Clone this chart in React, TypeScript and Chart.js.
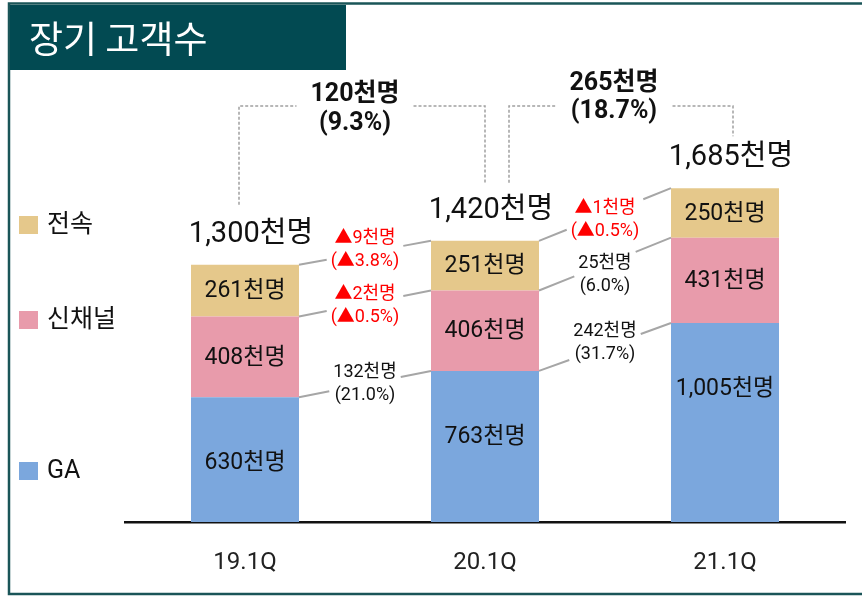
import React, { useEffect, useRef } from 'react';
import { Chart, registerables } from 'chart.js';

Chart.register(...registerables);

const title = '장기 고객수';
const categories = ['19.1Q', '20.1Q', '21.1Q'];
const seriesNames = ['GA', '신채널', '전속'];
const gaValues = [630, 763, 1005];
const newChannelValues = [408, 406, 431];
const exclusiveValues = [261, 251, 250];
const gaLabels = ['630천명', '763천명', '1,005천명'];
const newChannelLabels = ['408천명', '406천명', '431천명'];
const exclusiveLabels = ['261천명', '251천명', '250천명'];
const totalLabels = ['1,300천명', '1,420천명', '1,685천명'];
const gaChange = [['132천명', '(21.0%)'], ['242천명', '(31.7%)']];
const newChannelChange = [['▲2천명', '(▲0.5%)'], ['25천명', '(6.0%)']];
const exclusiveChange = [['▲9천명', '(▲3.8%)'], ['▲1천명', '(▲0.5%)']];
const totalChange = [['120천명', '(9.3%)'], ['265천명', '(18.7%)']];

const colors = ['#7BA7DD', '#E89BAB', '#E5C88B'];
const FONT = "Roboto, 'Noto Sans CJK KR', sans-serif";
const KFONT = "'Noto Sans CJK KR', Roboto, sans-serif";

const decorPlugin = {
  id: 'decor',
  beforeDraw(chart: any) {
    const ctx = chart.ctx;
    ctx.save();
    ctx.fillStyle = '#fff';
    ctx.fillRect(0, 0, chart.width, chart.height);
    ctx.strokeStyle = '#1A5558';
    ctx.lineWidth = 2.5;
    ctx.strokeRect(9, 3.5, chart.width + 20, 590.5);
    ctx.fillStyle = '#024A52';
    ctx.fillRect(10, 5, 336, 65);
    ctx.fillStyle = '#fff';
    ctx.font = `37px ${KFONT}`;
    ctx.textAlign = 'left';
    ctx.textBaseline = 'middle';
    ctx.fillText(title, 29, 39);

    // legend
    const legendY = [471, 320, 225];
    ctx.font = `25px ${FONT}`;
    chart.data.datasets.forEach((ds: any, i: number) => {
      const y = legendY[i];
      ctx.fillStyle = ds.backgroundColor;
      ctx.fillRect(19, y - 9, 19, 18);
      ctx.fillStyle = '#111';
      ctx.fillText(ds.label, 47, y + 1);
    });
    ctx.restore();
  },
  afterDatasetsDraw(chart: any) {
    const ctx = chart.ctx;
    const metas = [0, 1, 2].map((i) => chart.getDatasetMeta(i));
    ctx.save();
    ctx.textAlign = 'center';
    ctx.textBaseline = 'middle';

    // segment labels
    const segLabels = [gaLabels, newChannelLabels, exclusiveLabels];
    ctx.font = `23px ${FONT}`;
    ctx.fillStyle = '#111';
    for (let i = 0; i < 3; i++) {
      metas[i].data.forEach((el: any, j: number) => {
        const ly = i === 0 ? el.y + 65 : (el.y + el.base) / 2;
        ctx.fillText(segLabels[i][j], el.x, ly + 1);
      });
    }

    // totals
    ctx.font = `29px ${FONT}`;
    metas[2].data.forEach((el: any, j: number) => {
      ctx.fillText(totalLabels[j], el.x + 6, el.y - 30);
    });

    // connectors between bars
    const changes = [gaChange, newChannelChange, exclusiveChange];
    const shift = [[0, -4], [2.5, 11], [-3, 5.5]];
    ctx.font = `18px ${FONT}`;
    for (let i = 0; i < 3; i++) {
      for (let j = 0; j < 2; j++) {
        const a = metas[i].data[j];
        const b = metas[i].data[j + 1];
        const x1 = a.x + a.width / 2;
        const y1 = a.y;
        const x2 = b.x - b.width / 2;
        const y2 = b.y;
        const cx = (x1 + x2) / 2;
        const cy = (y1 + y2) / 2 + shift[i][j];
        const lines = changes[i][j];
        const w = Math.max(...lines.map((t) => ctx.measureText(t).width));
        const gl = cx - w / 2 - 4;
        const gr = cx + w / 2 + 4;
        const yAt = (x: number) => y1 + ((y2 - y1) * (x - x1)) / (x2 - x1);
        ctx.strokeStyle = '#A6A6A6';
        ctx.lineWidth = 2;
        ctx.setLineDash([]);
        ctx.beginPath();
        ctx.moveTo(x1, y1);
        ctx.lineTo(gl, yAt(gl));
        ctx.moveTo(gr, yAt(gr));
        ctx.lineTo(x2, y2);
        ctx.stroke();
        lines.forEach((t, k) => {
          ctx.fillStyle = t.includes('▲') ? '#FF0000' : '#111';
          ctx.fillText(t, cx, cy + (k === 0 ? -11.5 : 11.5));
        });
      }
    }

    // dashed growth brackets
    const off = [[-6, 0], [24, 8]];
    const drop = [[60, 58], [58, 52]];
    const textDy = [[-11, 18], [-22, 6]];
    const hy = chart.chartArea.top - 20;
    ctx.font = `bold 25px ${FONT}`;
    for (let j = 0; j < 2; j++) {
      const a = metas[2].data[j];
      const b = metas[2].data[j + 1];
      const xa = a.x + off[j][0];
      const xb = b.x + off[j][1];
      const ya = a.y - drop[j][0];
      const yb = b.y - drop[j][1];
      const cx = (xa + xb) / 2 - 7;
      const lines = totalChange[j];
      const w = Math.max(...lines.map((t) => ctx.measureText(t).width));
      ctx.strokeStyle = '#A0A0A0';
      ctx.lineWidth = 1.5;
      ctx.setLineDash([3, 2]);
      ctx.beginPath();
      ctx.moveTo(xa, ya);
      ctx.lineTo(xa, hy);
      ctx.lineTo(cx - w / 2 - 14, hy);
      ctx.moveTo(cx + w / 2 + 14, hy);
      ctx.lineTo(xb, hy);
      ctx.lineTo(xb, yb);
      ctx.stroke();
      ctx.setLineDash([]);
      ctx.fillStyle = '#111';
      lines.forEach((t, k) => ctx.fillText(t, cx, hy + textDy[j][k]));
    }
    ctx.restore();
  },
};

export default function App() {
  const ref = useRef<HTMLCanvasElement>(null);
  useEffect(() => {
    document.body.style.margin = '0';
    const chart = new Chart(ref.current as HTMLCanvasElement, {
      type: 'bar',
      data: {
        labels: categories,
        datasets: [
          { label: seriesNames[0], data: gaValues, backgroundColor: colors[0] },
          { label: seriesNames[1], data: newChannelValues, backgroundColor: colors[1] },
          { label: seriesNames[2], data: exclusiveValues, backgroundColor: colors[2] },
        ],
      },
      options: {
        responsive: false,
        animation: false,
        layout: { padding: { left: 125, right: 17, top: 126, bottom: 0 } },
        plugins: { legend: { display: false }, tooltip: { enabled: false } },
        datasets: { bar: { categoryPercentage: 1, barPercentage: 0.45, borderWidth: 0 } },
        scales: {
          x: {
            stacked: true,
            grid: { display: false, drawTicks: false },
            border: { display: true, color: '#111', width: 2.5 },
            ticks: { font: { family: FONT, size: 24 }, color: '#222', padding: 27, maxRotation: 0 },
            afterFit: (s: any) => {
              s.height = 74;
            },
          },
          y: { stacked: true, display: false, min: 0, max: 2000 },
        },
      } as any,
      plugins: [decorPlugin],
    });
    return () => chart.destroy();
  }, []);
  return <canvas ref={ref} width={862} height={596} style={{ display: 'block' }} />;
}
